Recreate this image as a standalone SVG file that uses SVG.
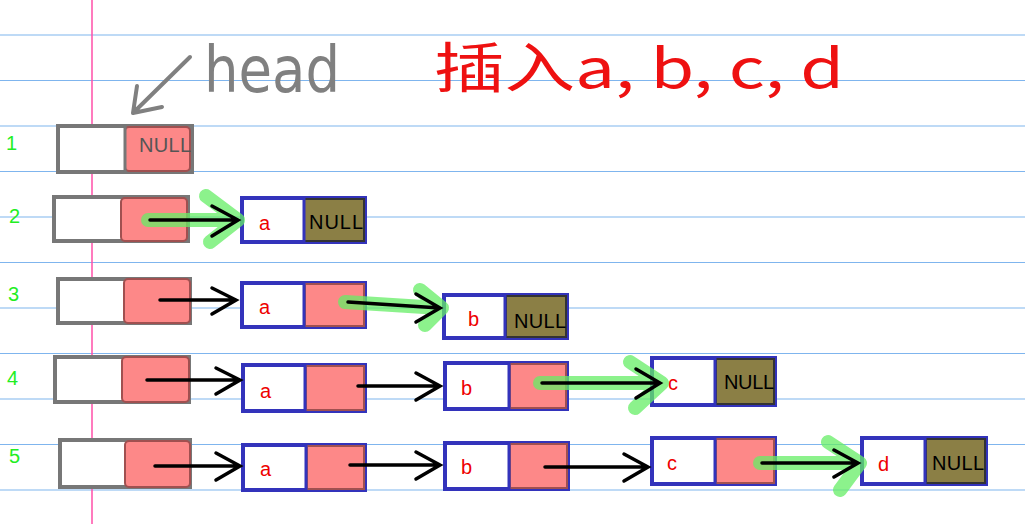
<svg xmlns="http://www.w3.org/2000/svg" width="1025" height="524" viewBox="0 0 1025 524">
<style>
.rl{stroke:#7fb5ee;stroke-width:1.2}
.g{fill:#fff;stroke:#777;stroke-width:4}
.b{fill:#fff;stroke:#3333bb;stroke-width:4}
.pk{fill:#fd8888;stroke:#a05050;stroke-width:2}
.ol{fill:#8b7f45;stroke:#333;stroke-width:2}
.t{font-family:"Liberation Sans",sans-serif;font-size:20px}
.num{font-family:"Liberation Sans",sans-serif;font-size:20px;fill:#22ee22}
.ar{stroke:#000;stroke-width:3.5;fill:none;stroke-linecap:round}
.hl{stroke:#66ee66;stroke-width:14;stroke-opacity:.75;fill:none;stroke-linecap:round;stroke-linejoin:round}
</style>
<rect width="1025" height="524" fill="#fff"/>
<g id="paper">
<line class="rl" x1="0" y1="35" x2="1025" y2="35"/><line class="rl" x1="0" y1="80.5" x2="1025" y2="80.5"/>
<line class="rl" x1="0" y1="126" x2="1025" y2="126"/><line class="rl" x1="0" y1="171.5" x2="1025" y2="171.5"/>
<line class="rl" x1="0" y1="217" x2="1025" y2="217"/><line class="rl" x1="0" y1="262.5" x2="1025" y2="262.5"/>
<line class="rl" x1="0" y1="308" x2="1025" y2="308"/><line class="rl" x1="0" y1="353.5" x2="1025" y2="353.5"/>
<line class="rl" x1="0" y1="399" x2="1025" y2="399"/><line class="rl" x1="0" y1="444.5" x2="1025" y2="444.5"/>
<line class="rl" x1="0" y1="490" x2="1025" y2="490"/>
<line x1="92" y1="0" x2="92" y2="524" stroke="#ff4fa8" stroke-width="1.5"/>
</g>
<g id="labels">
<text x="204" y="92" font-family="DejaVu Sans,sans-serif" font-size="64" fill="#808080" textLength="136" lengthAdjust="spacingAndGlyphs">head</text>
<text x="434" y="88" font-family="Noto Sans CJK SC,sans-serif" font-size="54" fill="#ee1111" textLength="410" lengthAdjust="spacingAndGlyphs">插入a, b, c, d</text>
<text class="num" x="6" y="150">1</text><text class="num" x="9" y="223">2</text><text class="num" x="8" y="301">3</text><text class="num" x="7" y="385">4</text><text class="num" x="9" y="463">5</text>
</g>
<g id="head1"><rect class="g" x="58" y="126" width="134" height="46"/><rect class="pk" x="125" y="127" width="65" height="44" rx="4"/><line x1="125" y1="126" x2="125" y2="172" stroke="#777" stroke-width="3"/><text class="t" x="139" y="152" fill="#555" textLength="52">NULL</text></g>
<g id="head2"><rect class="g" x="54" y="197" width="134" height="44"/><rect class="pk" x="121" y="198" width="66" height="43" rx="4"/></g>
<g id="head3"><rect class="g" x="58" y="279" width="132" height="44"/><rect class="pk" x="124" y="279" width="66" height="44" rx="4"/></g>
<g id="head4"><rect class="g" x="55" y="357" width="134" height="45"/><rect class="pk" x="122" y="357" width="67" height="45" rx="4"/></g>
<g id="head5"><rect class="g" x="60" y="440" width="130" height="47"/><rect class="pk" x="125" y="441" width="65" height="46" rx="4"/></g>
<g id="r2a"><rect class="b" x="242" y="198" width="123" height="44"/><rect class="ol" x="304" y="199" width="60" height="42"/><line x1="304" y1="198" x2="304" y2="242" stroke="#3333bb" stroke-width="3"/><text class="t" x="259" y="230" fill="#e00">a</text><text class="t" x="309" y="229" fill="#000" textLength="54">NULL</text></g>
<g id="r3a"><rect class="b" x="242" y="283" width="123" height="44"/><rect class="pk" x="305" y="284" width="59" height="42"/><line x1="304" y1="283" x2="304" y2="327" stroke="#3333bb" stroke-width="3"/><text class="t" x="259" y="314" fill="#e00">a</text></g>
<g id="r3b"><rect class="b" x="444" y="295" width="123" height="43"/><rect class="ol" x="506" y="296" width="60" height="41"/><line x1="505" y1="295" x2="505" y2="338" stroke="#3333bb" stroke-width="3"/><text class="t" x="468" y="326" fill="#e00">b</text><text class="t" x="514" y="328" fill="#000" textLength="52">NULL</text></g>
<g id="r4a"><rect class="b" x="243" y="365" width="122" height="46"/><rect class="pk" x="306" y="366" width="58" height="44"/><line x1="305" y1="365" x2="305" y2="411" stroke="#3333bb" stroke-width="3"/><text class="t" x="260" y="398" fill="#e00">a</text></g>
<g id="r4b"><rect class="b" x="445" y="363" width="122" height="46"/><rect class="pk" x="510" y="364" width="56" height="44"/><line x1="509" y1="363" x2="509" y2="409" stroke="#3333bb" stroke-width="3"/><text class="t" x="461" y="395" fill="#e00">b</text></g>
<g id="r4c"><rect class="b" x="652" y="358" width="123" height="47"/><rect class="ol" x="716" y="359" width="58" height="45"/><line x1="715" y1="358" x2="715" y2="405" stroke="#3333bb" stroke-width="3"/><text class="t" x="668" y="390" fill="#e00">c</text><text class="t" x="724" y="389" fill="#000" textLength="50">NULL</text></g>
<g id="r5a"><rect class="b" x="243" y="445" width="122" height="45"/><rect class="pk" x="307" y="446" width="57" height="43"/><line x1="306" y1="445" x2="306" y2="490" stroke="#3333bb" stroke-width="3"/><text class="t" x="260" y="476" fill="#e00">a</text></g>
<g id="r5b"><rect class="b" x="445" y="443" width="123" height="46"/><rect class="pk" x="510" y="444" width="57" height="44"/><line x1="509" y1="443" x2="509" y2="489" stroke="#3333bb" stroke-width="3"/><text class="t" x="461" y="474" fill="#e00">b</text></g>
<g id="r5c"><rect class="b" x="652" y="438" width="123" height="46"/><rect class="pk" x="716" y="439" width="58" height="44"/><line x1="715" y1="438" x2="715" y2="484" stroke="#3333bb" stroke-width="3"/><text class="t" x="667" y="470" fill="#e00">c</text></g>
<g id="r5d"><rect class="b" x="862" y="438" width="124" height="46"/><rect class="ol" x="926" y="439" width="59" height="44"/><line x1="925" y1="438" x2="925" y2="484" stroke="#3333bb" stroke-width="3"/><text class="t" x="878" y="471" fill="#e00">d</text><text class="t" x="932" y="470" fill="#000" textLength="52">NULL</text></g>
<g id="connectors">
<path d="M190 57 L133 113 M133 113 L162 107 M133 113 L137 86" stroke="#808080" stroke-width="4" fill="none" stroke-linecap="round"/>
<path class="hl" d="M148 220 L238 220 M206 196 L238 220 L210 242"/>
<path class="hl" d="M345 302 L440 308 M420 290 L442 308 L425 325"/>
<path class="hl" d="M540 383 L660 383 M630 362 L662 383 L635 408"/>
<path class="hl" d="M760 463 L858 463 M828 442 L860 463 L840 490"/>
<path class="ar" d="M150 220 L238 220 M212 206 L238 220 L212 236"/>
<path class="ar" d="M160 300 L236 300 M212 288 L236 300 L212 314"/>
<path class="ar" d="M348 302 L440 308 M416 294 L440 308 L416 322"/>
<path class="ar" d="M147 380 L240 380 M216 368 L240 380 L216 394"/>
<path class="ar" d="M358 386 L440 386 M416 373 L440 386 L416 400"/>
<path class="ar" d="M542 383 L660 383 M636 369 L660 383 L636 398"/>
<path class="ar" d="M155 466 L240 466 M216 453 L240 466 L216 480"/>
<path class="ar" d="M350 465 L440 465 M416 452 L440 465 L416 479"/>
<path class="ar" d="M545 467 L648 467 M624 454 L648 467 L624 481"/>
<path class="ar" d="M762 463 L858 463 M834 450 L858 463 L834 477"/>
</g>
</svg>
